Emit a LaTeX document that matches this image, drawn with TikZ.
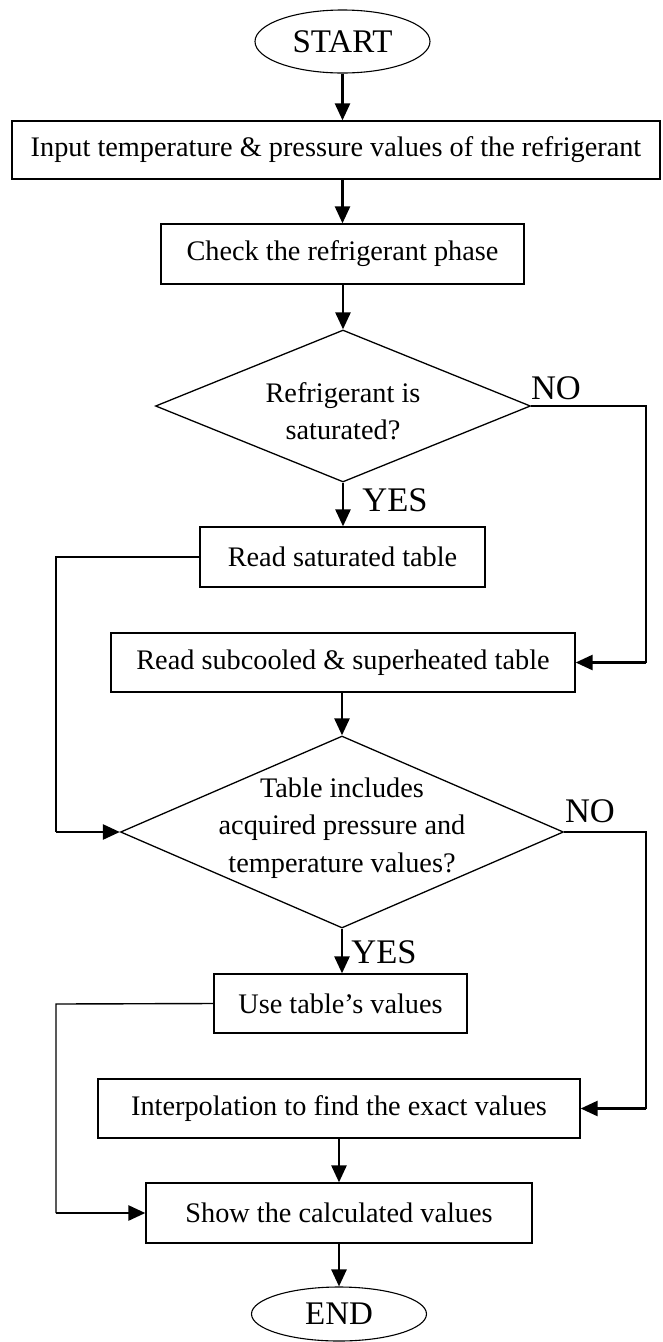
\documentclass[tikz,border=0pt]{standalone}
\usepackage{fontspec}
\setmainfont{Liberation Serif}
\usetikzlibrary{shapes.geometric,arrows.meta}
\tikzset{
  box/.style={draw, line width=1.3pt, rectangle, inner sep=0pt, font=\fontsize{28.3}{37.5}\selectfont},
  term/.style={draw, line width=1.1pt, ellipse, inner sep=0pt, minimum width=175pt, font=\fontsize{33}{36}\selectfont},
  dia/.style={draw, line width=1.3pt, diamond, inner sep=0pt},
  txt/.style={align=center, inner sep=0pt, font=\fontsize{28.3}{37.5}\selectfont},
  lbl/.style={inner sep=0pt, font=\fontsize{34.5}{36}\selectfont},
  flow/.style={line width=2.6pt, -{Triangle[length=17pt,width=15pt]}},
  conn/.style={line width=1.4pt},
}
\begin{document}
\begin{tikzpicture}[x=1pt,y=-1pt]
\useasboundingbox (0,0) rectangle (662,1342);
\fill[white] (0,0) rectangle (662,1342);
% nodes
\node[term, minimum height=63pt] (start) at (342.5,41.5) {START};
\node[box, minimum width=648pt, minimum height=58pt] (input) at (336,150) {Input temperature \& pressure values of the refrigerant};
\node[box, minimum width=363pt, minimum height=60pt] (check) at (342.5,254) {Check the refrigerant phase};
\node[dia, minimum width=375pt, minimum height=152pt] (d1) at (343,406) {};
\node[txt] (d1t) at (343,411) {Refrigerant is\\saturated?};
\node[box, minimum width=285pt, minimum height=60pt] (sat) at (342.5,557) {Read saturated table};
\node[box, minimum width=464pt, minimum height=59pt] (sub) at (343,662.5) {Read subcooled \& superheated table};
\node[dia, minimum width=443pt, minimum height=192pt] (d2) at (342,832) {};
\node[txt] (d2t) at (342,828) {Table includes\\acquired pressure and\\temperature values?};
\node[box, minimum width=253pt, minimum height=59pt] (use) at (340.5,1003.5) {Use table's values};
\node[box, minimum width=482pt, minimum height=59pt] (interp) at (339,1108.5) {Interpolation to find the exact values};
\node[box, minimum width=386pt, minimum height=60pt] (show) at (339,1213) {Show the calculated values};
\node[term, minimum height=54pt] (end) at (339,1314) {END};
% labels
\node[lbl] (no1) at (556,388) {NO};
\node[lbl] (yes1) at (395,500) {YES};
\node[lbl] (no2) at (590,811) {NO};
\node[lbl] (yes2) at (384,952) {YES};
% coordinates for routing
\coordinate (r1) at (646,406);
\coordinate (r2) at (646,832);
\coordinate (l1) at (56,557);
\coordinate (l2) at (56,1004);
% main flow
\draw[flow] (start.south) -- (start.south |- input.north);
\draw[flow] (check.north |- input.south) -- (check.north);
\draw[flow] (d1.north |- check.south) -- (d1.north);
\draw[flow] (d1.south) -- (d1.south |- sat.north);
\draw[flow] (d2.north |- sub.south) -- (d2.north);
\draw[flow] (d2.south) -- (d2.south |- use.north);
\draw[flow] (interp.south) -- (interp.south |- show.north);
\draw[flow] (show.south) -- (end.north);
% NO branches
\draw[conn] (d1.east) -- (r1) -- (r1 |- sub.east);
\draw[flow] (r1 |- sub.east) -- (sub.east);
\draw[conn] (d2.east) -- (r2) -- (r2 |- interp.east);
\draw[flow] (r2 |- interp.east) -- (interp.east);
% left bypasses
\draw[conn] (sat.west) -- (l1) -- (l1 |- d2.west);
\draw[flow] (l1 |- d2.west) -- (d2.west);
\draw[conn] (use.west) -- (l2) -- (l2 |- show.west);
\draw[flow] (l2 |- show.west) -- (show.west);
\end{tikzpicture}
\end{document}
